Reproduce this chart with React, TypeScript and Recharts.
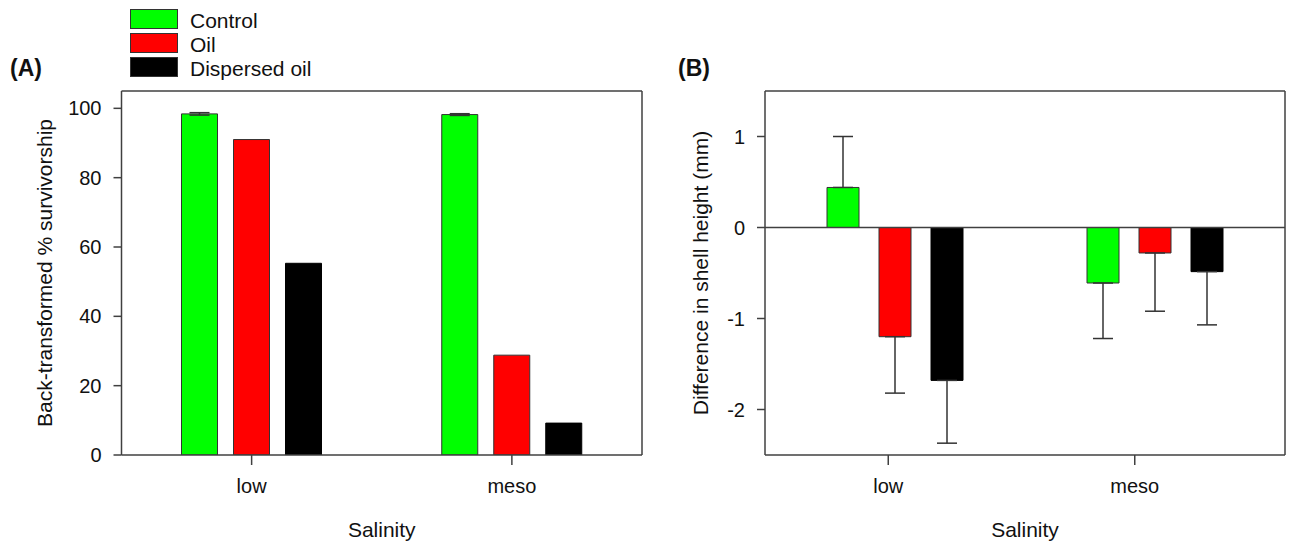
import React from 'react';
import { BarChart, Bar, XAxis, YAxis, ErrorBar, ReferenceLine, Legend } from 'recharts';

// ---- data ----
const categories = ['low', 'meso'];
const seriesNames = ['Control', 'Oil', 'Dispersed oil'];
const seriesColors = ['#00ff00', '#ff0000', '#000000'];

// Panel A: back-transformed % survivorship
const survivalControl = [98.4, 98.2];
const survivalControlErr = [0.35, 0.25];
const survivalOil = [91.0, 28.8];
const survivalDispersed = [55.3, 9.2];
const survivalTicks = [0, 20, 40, 60, 80, 100];

// Panel B: difference in shell height (mm)
const heightControl = [0.44, -0.61];
const heightControlErr = [0.56, 0.61];
const heightOil = [-1.2, -0.28];
const heightOilErr = [0.62, 0.64];
const heightDispersed = [-1.68, -0.485];
const heightDispersedErr = [0.69, 0.585];
const heightTicks = [-2, -1, 0, 1];

// one-sided error bars (away from zero)
const oneSided = (v: number, e: number) => (v >= 0 ? [0, e] : [e, 0]);

const survivalData = categories.map((cat, i) => ({
  cat,
  control: survivalControl[i],
  controlErr: survivalControlErr[i],
  oil: survivalOil[i],
  dispersed: survivalDispersed[i],
}));

const heightData = categories.map((cat, i) => ({
  cat,
  control: heightControl[i],
  controlErr: oneSided(heightControl[i], heightControlErr[i]),
  oil: heightOil[i],
  oilErr: oneSided(heightOil[i], heightOilErr[i]),
  dispersed: heightDispersed[i],
  dispersedErr: oneSided(heightDispersed[i], heightDispersedErr[i]),
}));

// ---- styles ----
const font = '"Liberation Sans", Arial, Helvetica, sans-serif';
const axisColor = '#404040';
const textColor = '#111111';
const barStroke = '#333333';
const axisLineStyle = { stroke: axisColor, strokeWidth: 1.5 };
const tickStyle = { fill: textColor, fontSize: 20, fontFamily: font };

const renderLegend = (props: any) => {
  const payload = [...(props.payload || [])].sort(
    (a: any, b: any) => seriesNames.indexOf(a.value) - seriesNames.indexOf(b.value)
  );
  return (
    <div style={{ fontFamily: font }}>
      {payload.map((e: any, i: number) => (
        <div key={i} style={{ display: 'flex', alignItems: 'flex-start', height: 24 }}>
          <div
            style={{
              width: 46,
              height: 18,
              background: e.color,
              border: '1px solid #333',
            }}
          />
          <span style={{ marginLeft: 12, fontSize: 21, lineHeight: '24px', color: textColor, whiteSpace: 'nowrap' }}>
            {e.value}
          </span>
        </div>
      ))}
    </div>
  );
};

export default function App() {
  return (
    <div style={{ position: 'absolute', left: 0, top: 0, width: 1290, height: 544, background: '#fff', fontFamily: font }}>
      {/* Panel A */}
      <div style={{ position: 'absolute', left: 0, top: 0 }}>
        <BarChart
          width={660}
          height={544}
          data={survivalData}
          margin={{ top: 90, right: 17, bottom: 0, left: 0 }}
          barGap={16}
          barSize={36}
        >
          <XAxis
            xAxisId="b"
            dataKey="cat"
            height={89}
            tickSize={10}
            tickMargin={14}
            axisLine={axisLineStyle}
            tickLine={axisLineStyle}
            tick={tickStyle}
            label={{ value: 'Salinity', position: 'insideBottom', offset: 7, fill: textColor, fontSize: 21, fontFamily: font }}
          />
          <XAxis xAxisId="top" dataKey="cat" orientation="top" height={1} tick={false} tickLine={false} axisLine={axisLineStyle} />
          <YAxis
            yAxisId="l"
            type="number"
            domain={[0, 105]}
            ticks={survivalTicks}
            width={121.5}
            tickSize={8}
            tickMargin={12}
            axisLine={axisLineStyle}
            tickLine={axisLineStyle}
            tick={tickStyle}
            allowDataOverflow
            label={{
              value: 'Back-transformed % survivorship',
              angle: -90,
              position: 'insideLeft',
              offset: 45,
              style: { textAnchor: 'middle' },
              fill: textColor,
              fontSize: 21,
              fontFamily: font,
            }}
          />
          <YAxis yAxisId="r" orientation="right" type="number" domain={[0, 1]} width={1} tick={false} tickLine={false} axisLine={axisLineStyle} />
          <Legend
            layout="vertical"
            align="center"
            verticalAlign="middle"
            wrapperStyle={{ left: 130, top: 9, width: 'auto', height: 'auto' }}
            content={renderLegend}
          />
          <Bar xAxisId="b" yAxisId="l" dataKey="control" name={seriesNames[0]} fill={seriesColors[0]} stroke={barStroke} strokeWidth={1} isAnimationActive={false}>
            <ErrorBar dataKey="controlErr" width={10} stroke={barStroke} strokeWidth={1.5} />
          </Bar>
          <Bar xAxisId="b" yAxisId="l" dataKey="oil" name={seriesNames[1]} fill={seriesColors[1]} stroke={barStroke} strokeWidth={1} isAnimationActive={false} />
          <Bar xAxisId="b" yAxisId="l" dataKey="dispersed" name={seriesNames[2]} fill={seriesColors[2]} stroke="#000" strokeWidth={1} isAnimationActive={false} />
        </BarChart>
      </div>

      {/* Panel B */}
      <div style={{ position: 'absolute', left: 660, top: 0 }}>
        <BarChart
          width={630}
          height={544}
          data={heightData}
          margin={{ top: 90, right: 4, bottom: 0, left: 0 }}
          barGap={20}
          barSize={32}
        >
          <XAxis xAxisId="bars" dataKey="cat" hide height={0} />
          <XAxis
            xAxisId="lab"
            dataKey="cat"
            height={89}
            padding={{ left: 0, right: 27 }}
            tickSize={10}
            tickMargin={14}
            axisLine={axisLineStyle}
            tickLine={axisLineStyle}
            tick={tickStyle}
            label={{ value: 'Salinity', position: 'insideBottom', offset: 7, fill: textColor, fontSize: 21, fontFamily: font }}
          />
          <XAxis xAxisId="top" dataKey="cat" orientation="top" height={1} tick={false} tickLine={false} axisLine={axisLineStyle} />
          <YAxis
            yAxisId="l"
            type="number"
            domain={[-2.5, 1.5]}
            ticks={heightTicks}
            width={105}
            tickSize={8}
            tickMargin={12}
            axisLine={axisLineStyle}
            tickLine={axisLineStyle}
            tick={tickStyle}
            allowDataOverflow
            label={{
              value: 'Difference in shell height (mm)',
              angle: -90,
              position: 'insideLeft',
              offset: 41,
              style: { textAnchor: 'middle' },
              fill: textColor,
              fontSize: 21,
              fontFamily: font,
            }}
          />
          <YAxis yAxisId="r" orientation="right" type="number" domain={[0, 1]} width={1} tick={false} tickLine={false} axisLine={axisLineStyle} />
          <ReferenceLine xAxisId="bars" yAxisId="l" y={0} stroke={axisColor} strokeWidth={1.5} />
          <Bar xAxisId="bars" yAxisId="l" dataKey="control" name={seriesNames[0]} fill={seriesColors[0]} stroke={barStroke} strokeWidth={1} isAnimationActive={false}>
            <ErrorBar dataKey="controlErr" width={10} stroke={barStroke} strokeWidth={1.5} />
          </Bar>
          <Bar xAxisId="bars" yAxisId="l" dataKey="oil" name={seriesNames[1]} fill={seriesColors[1]} stroke={barStroke} strokeWidth={1} isAnimationActive={false}>
            <ErrorBar dataKey="oilErr" width={10} stroke={barStroke} strokeWidth={1.5} />
          </Bar>
          <Bar xAxisId="bars" yAxisId="l" dataKey="dispersed" name={seriesNames[2]} fill={seriesColors[2]} stroke="#000" strokeWidth={1} isAnimationActive={false}>
            <ErrorBar dataKey="dispersedErr" width={10} stroke={barStroke} strokeWidth={1.5} />
          </Bar>
        </BarChart>
      </div>

      {/* panel letters */}
      <svg width={1290} height={544} style={{ position: 'absolute', left: 0, top: 0, pointerEvents: 'none' }}>
        <text x={10} y={76} fontFamily={font} fontWeight="bold" fontSize={23} fill={textColor}>(A)</text>
        <text x={678} y={76} fontFamily={font} fontWeight="bold" fontSize={23} fill={textColor}>(B)</text>
      </svg>
    </div>
  );
}
